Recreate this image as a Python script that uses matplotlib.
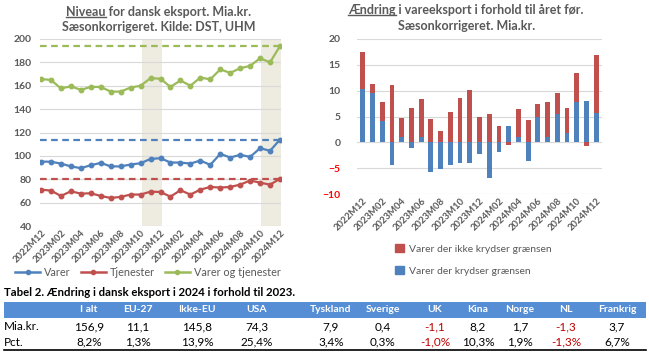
import matplotlib
matplotlib.use("Agg")
from matplotlib import pyplot as plt
from matplotlib.lines import Line2D
from matplotlib.patches import Rectangle, Patch
import numpy as np

# --- data -------------------------------------------------------------
maaneder = ["2022M12", "2023M01", "2023M02", "2023M03", "2023M04", "2023M05", "2023M06",
            "2023M07", "2023M08", "2023M09", "2023M10", "2023M11", "2023M12", "2024M01",
            "2024M02", "2024M03", "2024M04", "2024M05", "2024M06", "2024M07", "2024M08",
            "2024M09", "2024M10", "2024M11", "2024M12"]

varer = [95.1, 95.0, 93.4, 91.0, 89.5, 92.0, 94.0, 91.0, 91.0, 92.6, 93.7, 97.4, 98.0,
         94.3, 94.3, 93.4, 96.0, 92.3, 101.7, 98.6, 100.9, 99.1, 106.6, 104.3, 114.0]
tjenester = [71.1, 70.3, 65.7, 69.7, 67.7, 68.0, 65.7, 64.0, 64.9, 66.9, 66.9, 69.4, 69.1,
             65.1, 70.6, 66.9, 71.1, 73.4, 72.9, 73.4, 75.4, 78.9, 77.1, 75.4, 80.4]
varer_tjenester = [165.7, 165.0, 157.7, 159.5, 156.5, 159.0, 159.0, 155.0, 155.0, 158.5,
                   160.0, 166.5, 166.0, 159.0, 164.5, 160.0, 167.0, 165.5, 174.0, 171.0,
                   175.0, 177.0, 183.5, 180.0, 194.0]

krydser = [10.3, 9.5, 4.1, -4.3, 1.0, -1.15, 1.0, -5.8, -5.25, -4.3, -4.0, -4.0, -2.2,
           -6.9, -1.8, 3.2, 1.0, -3.65, 5.0, 1.1, 5.5, 1.75, 7.9, 8.05, 5.6]
ikke_krydser = [7.1, 1.8, 3.7, 11.1, 3.7, 6.7, 7.3, 4.6, 2.2, 5.9, 8.6, 10.1, 5.0, 5.5,
                3.2, -0.5, 5.45, 4.3, 2.4, 6.7, 4.0, 4.9, 5.6, -0.7, 11.3]

tabel_kolonner = ["I alt", "EU-27", "Ikke-EU", "USA", "Tyskland", "Sverige", "UK",
                  "Kina", "Norge", "NL", "Frankrig"]
tabel_mia = ["156,9", "11,1", "145,8", "74,3", "7,9", "0,4", "-1,1", "8,2", "1,7", "-1,3", "3,7"]
tabel_pct = ["8,2%", "1,3%", "13,9%", "25,4%", "3,4%", "0,3%", "-1,0%", "10,3%", "1,9%",
             "-1,3%", "6,7%"]

# --- style -------------------------------------------------------------
plt.rcParams['font.family'] = ['Lato', 'DejaVu Sans']
BLAA = "#4F81BD"
ROED = "#C0504D"
GROEN = "#9BBB59"
GRAA = "#595959"
GRID = "#D9D9D9"

W, H = 649, 355
fig = plt.figure(figsize=(W / 100, H / 100), dpi=100)

def px_axes(x0, y0, x1, y1):
    return fig.add_axes([x0 / W, 1 - y1 / H, (x1 - x0) / W, (y1 - y0) / H])

# background axes in pixel coordinates (for titles and table)
bg = fig.add_axes([0, 0, 1, 1], zorder=-1)
bg.set_xlim(0, W)
bg.set_ylim(H, 0)
bg.axis("off")

# --- left chart: niveau ----------------------------------------------
x = np.arange(len(maaneder))
ax1 = px_axes(40, 39, 281, 226)
ax1.set_xlim(-0.1, 24.1)
ax1.set_ylim(40, 200)
ax1.axvspan(10.15, 12.15, color="#EEEBE0", lw=0, zorder=0)
ax1.axvspan(22.1, 24.2, color="#EEEBE0", lw=0, zorder=0)
for serie, farve, navn in [(varer, BLAA, "Varer"), (tjenester, ROED, "Tjenester"),
                           (varer_tjenester, GROEN, "Varer og tjenester")]:
    ax1.plot(x, serie, color=farve, lw=1.6, marker="o", ms=3.2, label=navn, zorder=3)
    ax1.axhline(serie[-1], color=farve, lw=1.6, ls=(0, (3, 2)), zorder=2)
ax1.set_yticks(range(40, 201, 20))
ax1.grid(axis="y", color=GRID, lw=0.8, zorder=1)
ax1.set_axisbelow(True)
ax1.set_xticks(x[::2])
ax1.set_xticklabels(maaneder[::2], rotation=45, ha="right", rotation_mode="anchor",
                    fontsize=6.8, color=GRAA, fontweight="bold")
ax1.tick_params(axis="y", labelsize=7.5, labelcolor=GRAA, length=0, pad=6)
ax1.tick_params(axis="x", length=0, pad=2)
for t in ax1.get_yticklabels():
    t.set_fontweight("bold")
for s in ax1.spines.values():
    s.set_visible(False)

h1 = [Line2D([0], [0], color=c, lw=1.8, marker="o", ms=3) for c in (BLAA, ROED, GROEN)]
fig.legend(h1, ["Varer", "Tjenester", "Varer og tjenester"], ncol=3, frameon=False,
           loc="center", bbox_to_anchor=(148 / W, 1 - 272 / H), fontsize=7.8,
           labelcolor=GRAA, handlelength=2.3, columnspacing=0.9, handletextpad=0.4)

# --- right chart: aendring ---------------------------------------------
kr = np.array(krydser)
ik = np.array(ikke_krydser)
bund = np.where((ik > 0) & (kr > 0), kr, np.where((ik < 0) & (kr < 0), kr, 0))
ax2 = px_axes(357, 39, 602, 194)
ax2.set_xlim(-0.6, 24.6)
ax2.set_ylim(-10, 20)
ax2.bar(x, kr, width=0.5, color=BLAA, zorder=3)
ax2.bar(x, ik, bottom=bund, width=0.5, color=ROED, zorder=3)
ax2.set_yticks(range(-10, 21, 5))
ax2.grid(axis="y", color=GRID, lw=0.8, zorder=1)
ax2.set_axisbelow(True)
ax2.set_xticks(x[::2])
ax2.set_xticklabels(maaneder[::2], rotation=45, ha="right", rotation_mode="anchor",
                    fontsize=6.8, color=GRAA, fontweight="bold")
ax2.tick_params(axis="y", labelsize=7.5, length=0, pad=12)
ax2.tick_params(axis="x", length=0, pad=2)
for t, v in zip(ax2.get_yticklabels(), range(-10, 21, 5)):
    t.set_fontweight("bold")
    t.set_color("#FF0000" if v < 0 else GRAA)
for s in ax2.spines.values():
    s.set_visible(False)

h2 = [Patch(color=ROED), Patch(color=BLAA)]
fig.legend(h2, ["Varer der ikke krydser grænsen", "Varer der krydser grænsen"],
           ncol=1, frameon=False, loc="upper left", bbox_to_anchor=(386 / W, 1 - 235 / H),
           fontsize=7.5, labelcolor=GRAA, handlelength=0.8, handleheight=0.8,
           handletextpad=0.5, labelspacing=1.2)

# --- titles ------------------------------------------------------------
def titel(cx, cy, ord1, rest):
    kw = dict(fontsize=9, fontweight="bold", color=GRAA, ha="center", va="center")
    t = bg.text(cx, cy, ord1 + rest, **kw)
    fig.canvas.draw()
    r = fig.canvas.get_renderer()
    bb = t.get_window_extent(r)
    tmp = bg.text(0, 0, ord1, fontsize=9, fontweight="bold")
    w = tmp.get_window_extent(r).width
    tmp.remove()
    yu = H - bb.y0 - 1
    bg.plot([bb.x0, bb.x0 + w], [yu, yu], color=GRAA, lw=1)

titel(159, 12, "Niveau", " for dansk eksport. Mia.kr.")
bg.text(159, 27, "Sæsonkorrigeret. Kilde: DST, UHM", fontsize=9, fontweight="bold",
        color=GRAA, ha="center", va="center")
titel(466, 10, "Ændring", " i vareeksport i forhold til året før.")
bg.text(467, 26, "Sæsonkorrigeret. Mia.kr.", fontsize=9, fontweight="bold",
        color=GRAA, ha="center", va="center")

# --- table -------------------------------------------------------------
bg.text(4, 293, "Tabel 2. Ændring i dansk eksport i 2024 i forhold til 2023.",
        fontsize=8.2, fontweight="bold", color="black", ha="left", va="center")
bg.add_patch(Rectangle((4, 302), 642, 16, color="#558ED5", lw=0))
kol_x = [89, 138, 197, 257, 331, 383, 435, 478, 520, 566, 617]
for cx, navn, m, p in zip(kol_x, tabel_kolonner, tabel_mia, tabel_pct):
    bg.text(cx, 310, navn, fontsize=7.5, fontweight="bold", color="white",
            ha="center", va="center")
    c = "#C00000" if m.startswith("-") else "black"
    bg.text(cx, 327, m, fontsize=8.5, color=c, ha="center", va="center")
    c = "#C00000" if p.startswith("-") else "black"
    bg.text(cx, 342, p, fontsize=8.5, color=c, ha="center", va="center")
bg.text(4, 327, "Mia.kr.", fontsize=8.5, color="black", ha="left", va="center")
bg.text(4, 342, "Pct.", fontsize=8.5, color="black", ha="left", va="center")
bg.plot([4, 646], [349.5, 349.5], color="black", lw=1.2)

fig.savefig("out.png", dpi=100)
